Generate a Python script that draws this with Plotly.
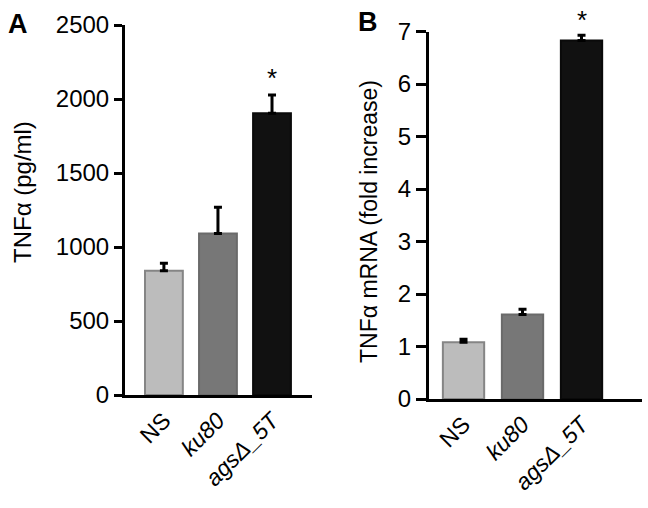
import plotly.graph_objects as go

categories = ["NS", "ku80", "agsΔ_5T"]
tick_labels = ["NS", "<i>ku80</i>", "<i>agsΔ_5T</i>"]
protein_vals = [840, 1092, 1903]
protein_err = [50, 176, 124]
mrna_vals = [1.08, 1.61, 6.83]
mrna_err = [0.06, 0.10, 0.10]
significant = [False, False, True]

fills = ["#bcbcbc", "#777777", "#111111"]
outlines = ["#858585", "#6a6a6a", "#0a0a0a"]

W, H = 648, 508
FONT = "Liberation Sans, Arial, sans-serif"

def px_x(a, b):
    return [a / W, b / W]

def px_y(top, bottom):
    return [(H - bottom) / H, (H - top) / H]

fig = go.Figure()

fig.add_trace(go.Bar(
    x=[0, 1, 2], y=protein_vals, width=0.7,
    marker=dict(color=fills, line=dict(color=outlines, width=2)),
    error_y=dict(type="data", symmetric=False, array=protein_err,
                 arrayminus=[0, 0, 0], color="black", thickness=3, width=4),
    xaxis="x", yaxis="y", showlegend=False))

fig.add_trace(go.Bar(
    x=[0, 1, 2], y=mrna_vals, width=0.7,
    marker=dict(color=fills, line=dict(color=outlines, width=2)),
    error_y=dict(type="data", symmetric=False, array=mrna_err,
                 arrayminus=[0, 0, 0], color="black", thickness=3, width=4),
    xaxis="x2", yaxis="y2", showlegend=False))

axis_common = dict(showgrid=False, zeroline=False, showline=True,
                   linecolor="black", linewidth=3, ticks="outside",
                   tickwidth=3, tickcolor="black", automargin=False,
                   tickfont=dict(family=FONT, size=24, color="black"))

xcommon = dict(tickvals=[0, 1, 2], ticktext=tick_labels, tickangle=-45,
               ticks="", showgrid=False, zeroline=False, showline=True,
               linecolor="black", linewidth=3, automargin=False,
               tickfont=dict(family=FONT, size=23, color="black"))

fig.update_layout(
    width=W, height=H,
    margin=dict(l=0, r=0, t=0, b=0, autoexpand=False),
    paper_bgcolor="white", plot_bgcolor="white",
    bargap=0.3,
    xaxis=dict(domain=px_x(125, 312), range=[-0.72, 2.74], anchor="y", **xcommon),
    yaxis=dict(domain=px_y(25, 395), range=[0, 2500], anchor="x",
               tickvals=[0, 500, 1000, 1500, 2000, 2500], ticklen=8,
               **axis_common),
    xaxis2=dict(domain=px_x(429, 642), range=[-0.585, 3.025], anchor="y2", **xcommon),
    yaxis2=dict(domain=px_y(31.5, 399), range=[0, 7], anchor="x2",
                tickvals=[0, 1, 2, 3, 4, 5, 6, 7], ticklen=10,
                **axis_common),
)

annotations = [
    dict(text="<b>A</b>", x=6 / W, y=1 - 24 / H, xref="paper", yref="paper",
         xanchor="left", yanchor="middle", showarrow=False,
         font=dict(family=FONT, size=27, color="black")),
    dict(text="<b>B</b>", x=356 / W, y=1 - 22 / H, xref="paper", yref="paper",
         xanchor="left", yanchor="middle", showarrow=False,
         font=dict(family=FONT, size=27, color="black")),
    dict(text="TNFα (pg/ml)", x=22 / W, y=1 - 192 / H, xref="paper", yref="paper",
         xanchor="center", yanchor="middle", textangle=-90, showarrow=False,
         font=dict(family=FONT, size=24, color="black")),
    dict(text="TNFα mRNA (fold increase)", x=369 / W, y=1 - 222 / H, xref="paper",
         yref="paper", xanchor="center", yanchor="middle", textangle=-90,
         showarrow=False, font=dict(family=FONT, size=23, color="black")),
]
for i, sig in enumerate(significant):
    if sig:
        annotations.append(dict(text="*", x=i, y=protein_vals[i] + protein_err[i],
                                xref="x", yref="y", yanchor="bottom", yshift=0,
                                showarrow=False,
                                font=dict(family=FONT, size=26, color="black")))
        annotations.append(dict(text="*", x=i, y=mrna_vals[i] + mrna_err[i],
                                xref="x2", yref="y2", yanchor="bottom", yshift=-2,
                                showarrow=False,
                                font=dict(family=FONT, size=26, color="black")))
fig.update_layout(annotations=annotations)

fig.write_html("out.html",
               config={"displayModeBar": False},
               post_script="document.body.style.margin='0';"
                           "document.body.style.overflow='hidden';")
